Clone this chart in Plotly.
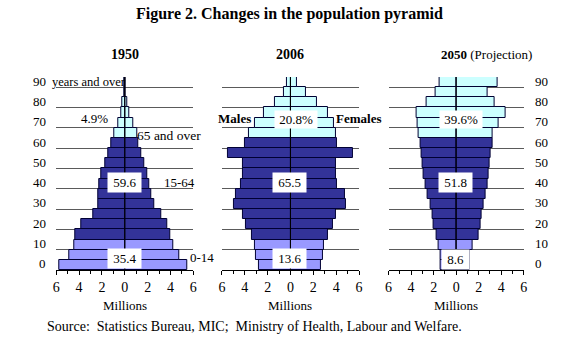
import plotly.graph_objects as go

W, H = 578, 353

age_groups = ["0-4", "5-9", "10-14", "15-19", "20-24", "25-29", "30-34", "35-39", "40-44",
              "45-49", "50-54", "55-59", "60-64", "65-69", "70-74", "75-79", "80-84", "85-89", "90+"]
age_start = [0, 5, 10, 15, 20, 25, 30, 35, 40, 45, 50, 55, 60, 65, 70, 75, 80, 85, 90]

male_1950 = [5.7, 4.9, 4.4, 4.3, 3.8, 2.8, 2.3, 2.3, 2.2, 2.07, 1.72, 1.45, 1.15, 0.9, 0.6, 0.33, 0.22, 0.06, 0.01]
female_1950 = [5.45, 4.75, 4.25, 4.0, 3.7, 3.15, 2.6, 2.3, 2.15, 2.0, 1.72, 1.45, 1.2, 1.1, 0.72, 0.38, 0.25, 0.08, 0.02]

male_2006 = [2.8, 3.0, 3.1, 3.4, 3.9, 4.2, 4.95, 4.75, 4.3, 4.17, 4.2, 5.44, 4.0, 3.65, 3.08, 2.36, 1.4, 0.6, 0.35]
female_2006 = [2.7, 2.8, 2.96, 3.25, 3.7, 4.0, 4.85, 4.75, 4.05, 3.97, 4.0, 5.5, 4.1, 3.97, 3.83, 3.25, 2.33, 1.38, 0.6]

male_2050 = [1.34, 1.4, 1.55, 1.7, 2.0, 2.13, 2.28, 2.57, 2.7, 2.9, 3.0, 3.1, 3.2, 3.33, 3.4, 3.55, 2.63, 1.8, 1.5]
female_2050 = [1.17, 1.23, 1.5, 1.96, 2.16, 2.25, 2.4, 2.63, 2.8, 2.9, 3.0, 3.04, 3.2, 3.27, 3.8, 4.35, 3.45, 2.8, 3.65]

share_labels_1950 = ["35.4", "59.6", "4.9%"]
share_labels_2006 = ["13.6", "65.5", "20.8%"]
share_labels_2050 = ["8.6", "51.8", "39.6%"]

age_tick_labels = ["0", "10", "20", "30", "40", "50", "60", "70", "80", "90"]
x_tick_vals = [-6, -4, -2, 0, 2, 4, 6]
x_tick_text = ["6", "4", "2", "0", "2", "4", "6"]

COL_CHILD = "#9999FF"
COL_WORK = "#333399"
COL_OLD = "#CCFFFF"
EDGE = "#000033"
SERIF = "Liberation Serif"


def group_color(a):
    if a < 15:
        return COL_CHILD
    if a < 65:
        return COL_WORK
    return COL_OLD


colors = [group_color(a) for a in age_start]
y_centers = [a + 2.5 for a in age_start]


def px_x(x):
    return x / W


def px_y(y):
    return 1 - y / H


panels = [
    ("1950", male_1950, female_1950, (53, 192)),
    ("2006", male_2006, female_2006, (221, 360)),
    ("2050", male_2050, female_2050, (390, 527)),
]

fig = go.Figure()
layout_axes = {}
shapes = []
for i, (name, m, f, (x0, x1)) in enumerate(panels):
    k = "" if i == 0 else str(i + 1)
    xa, ya = "x" + k, "y" + k
    fig.add_trace(go.Bar(x=[-v for v in m], y=y_centers, width=5, orientation="h",
                         marker=dict(color=colors, line=dict(color=EDGE, width=1)),
                         xaxis=xa, yaxis=ya, showlegend=False, name="Males " + name))
    fig.add_trace(go.Bar(x=f, y=y_centers, width=5, orientation="h",
                         marker=dict(color=colors, line=dict(color=EDGE, width=1)),
                         xaxis=xa, yaxis=ya, showlegend=False, name="Females " + name))
    layout_axes["xaxis" + k] = dict(
        domain=[px_x(x0), px_x(x1)], range=[-6, 6], anchor=ya,
        tickmode="array", tickvals=x_tick_vals, ticktext=x_tick_text,
        ticks="outside", ticklen=4, tickcolor="black", showgrid=False, zeroline=False,
        showline=True, linecolor="black", linewidth=1,
        minor=dict(tickmode="array", tickvals=list(range(-6, 7)), ticks="outside",
                   ticklen=3, tickcolor="black", showgrid=False),
        tickfont=dict(family=SERIF, size=14, color="black"), fixedrange=True)
    layout_axes["yaxis" + k] = dict(
        domain=[px_y(270), px_y(77)], range=[0, 95], anchor=xa,
        tickmode="array", tickvals=[10, 20, 30, 40, 50, 60, 70, 80, 90],
        showticklabels=False, ticks="", showgrid=True, gridcolor="#5a5a5a", gridwidth=1,
        zeroline=False, showline=False, fixedrange=True)
    shapes.append(dict(type="line", xref=xa, yref=ya, x0=0, x1=0, y0=0, y1=95,
                       line=dict(color="black", width=1), layer="above"))

ann = []


def add_text(text, x, y, size=13, bold=False, anchor="center", bg=None, pad=1, color="black"):
    ann.append(dict(text=("<b>%s</b>" % text) if bold else text, x=px_x(x), y=px_y(y),
                    xref="paper", yref="paper", showarrow=False, xanchor=anchor, yanchor="middle",
                    font=dict(family=SERIF, size=size, color=color),
                    bgcolor=bg, borderpad=pad))


# Title and panel headings
add_text("Figure 2. Changes in the population pyramid", 290, 14, size=16, bold=True)
add_text("1950", 123, 55, size=14, bold=True)
add_text("2006", 290, 55, size=14, bold=True)
add_text("<b>2050</b> (Projection)", 489, 55, size=13)

# Age labels (left of first panel, right of last panel)
for j, lab in enumerate(age_tick_labels):
    age = j * 10
    ann.append(dict(text=lab, x=px_x(45), y=age + 3, xref="paper", yref="y", showarrow=False,
                    xanchor="right", yanchor="middle", font=dict(family=SERIF, size=13, color="black")))
    ann.append(dict(text=lab, x=px_x(536), y=age + 3, xref="paper", yref="y3", showarrow=False,
                    xanchor="left", yanchor="middle", font=dict(family=SERIF, size=13, color="black")))

add_text("years and over", 47, 82, size=12.5, anchor="left")

# Millions labels
for cx in (123, 290, 458):
    add_text("Millions", cx, 305, size=13)

# 1950 annotations
add_text(share_labels_1950[2], 92, 118, size=13)
add_text("65 and over", 133, 135, size=13.5, anchor="left")
add_text("&nbsp;" + share_labels_1950[1] + "&nbsp;", 122, 182, size=13, bg="white", pad=2)
add_text("15-64", 160, 182, size=13, anchor="left")
add_text("&nbsp;" + share_labels_1950[0] + "&nbsp;", 122, 258, size=13, bg="white", pad=2)
add_text("0-14", 187, 257, size=13, anchor="left")

# 2006 annotations
add_text("Males", 215, 118, size=13, bold=True, anchor="left")
add_text("&nbsp;" + share_labels_2006[2] + "&nbsp;", 296, 119, size=13, bg="white", pad=1)
add_text("Females", 335, 118, size=13, bold=True, anchor="left")
add_text("&nbsp;" + share_labels_2006[1] + "&nbsp;", 290, 182, size=13, bg="white", pad=2)
add_text("&nbsp;" + share_labels_2006[0] + "&nbsp;", 290, 258, size=13, bg="white", pad=2)

# 2050 annotations
add_text("&nbsp;" + share_labels_2050[2] + "&nbsp;", 463, 119, size=13, bg="white", pad=1)
add_text("&nbsp;" + share_labels_2050[1] + "&nbsp;", 458, 182, size=13, bg="white", pad=2)
add_text("&nbsp;" + share_labels_2050[0] + "&nbsp;", 458, 259, size=13, bg="white", pad=2)

# Source
add_text("Source:&nbsp;&nbsp;Statistics Bureau, MIC;&nbsp;&nbsp;Ministry of Health, Labour and Welfare.",
         42, 326, size=14, anchor="left")

fig.update_layout(width=W, height=H, margin=dict(l=0, r=0, t=0, b=0),
                  paper_bgcolor="white", plot_bgcolor="white", barmode="overlay", bargap=0,
                  annotations=ann, shapes=shapes, **layout_axes)

fig.write_html("out.html")
